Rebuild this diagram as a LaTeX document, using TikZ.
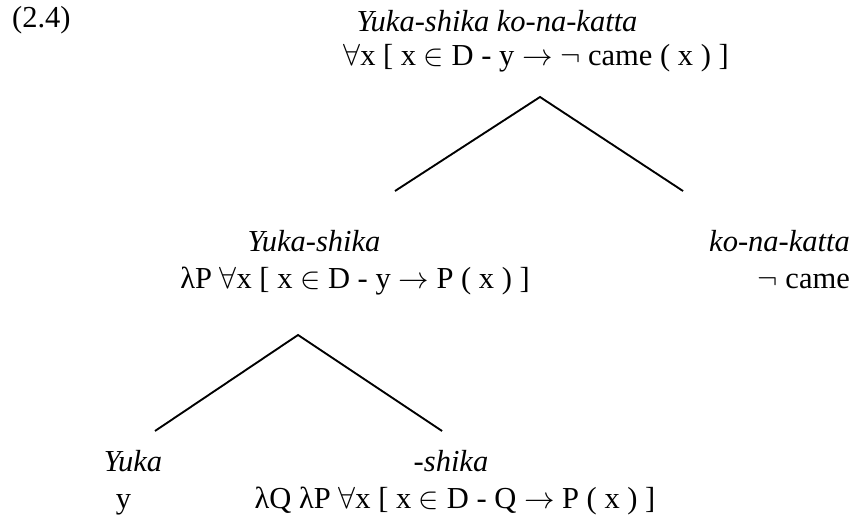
\RequirePackage{fix-cm}
\documentclass[tikz,border=0pt]{standalone}
\usepackage{fontspec}
\setmainfont{Liberation Serif}
\newcommand\fa{$\forall$}
\newcommand\mem{$\in$}
\newcommand\arr{$\rightarrow$}
\newcommand\nt{$\neg$}
\begin{document}
\begin{tikzpicture}[x=1pt,y=-1pt,
  lbl/.style={inner sep=0pt, anchor=base, text height=0.7em, text depth=0.21em,
    font=\fontsize{30.5}{34}\selectfont},
  branch/.style={line width=1.8pt, black},
  shade/.style={line width=1.8pt, black!25}]
\useasboundingbox (0,0) rectangle (854,529);
% texts
\node[lbl, anchor=base west] (num) at (12,28) {(2.4)};
\node[lbl] (rootw) at (497,32) {\itshape Yuka-shika ko-na-katta};
\node[lbl] (rootf) at (536,66) {\fa x [ x \mem{} D - y \arr{} \nt{} came ( x ) ]};
\node[lbl] (ysw) at (314,252) {\itshape Yuka-shika};
\node[lbl] (ysf) at (355,289) {λP \fa x [ x \mem{} D - y \arr{} P ( x ) ]};
\node[lbl, anchor=base east] (knw) at (850,252) {\itshape ko-na-katta};
\node[lbl, anchor=base east] (knf) at (850,289) {\nt{} came};
\node[lbl] (yw) at (133,471) {\itshape Yuka};
\node[lbl] (shw) at (451,471) {\itshape -shika};
\node[lbl] (yf) at (123.5,508) {y};
\node[lbl] (shf) at (455,508) {λQ λP \fa x [ x \mem{} D - Q \arr{} P ( x ) ]};
% tree branches
\coordinate (t) at (540,97);
\coordinate (tl) at (395,191);
\coordinate (tr) at (683,191);
\coordinate (m) at (298,335);
\coordinate (ml) at (155,431);
\coordinate (mr) at (442,431);
\begin{scope}[shift={(0.6,2)}]
\draw[shade] (tl) -- (t) -- (tr);
\draw[shade] (ml) -- (m) -- (mr);
\end{scope}
\draw[branch] (tl) -- (t) -- (tr);
\draw[branch] (ml) -- (m) -- (mr);
\end{tikzpicture}
\end{document}
